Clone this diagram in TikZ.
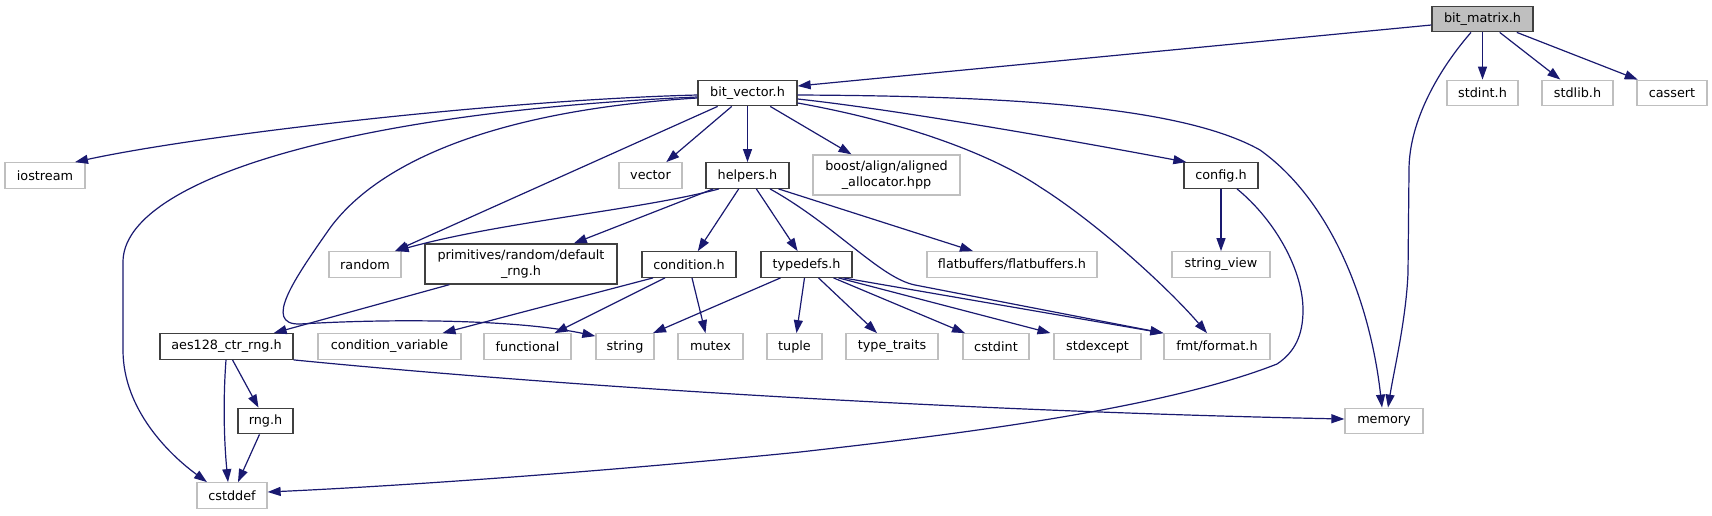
\documentclass[tikz,border=0pt]{standalone}
\usepackage{fontspec}
\setmainfont{DejaVu Sans}
\usetikzlibrary{arrows.meta,calc}
\definecolor{edgec}{HTML}{191970}
\definecolor{grayb}{HTML}{BFBFBF}
\definecolor{darkb}{HTML}{404040}
\begin{document}
\begin{tikzpicture}[x=1pt,y=-1pt,
  base/.style={draw, line width=1.3pt, inner sep=0pt, minimum height=25.5pt,
    font=\fontsize{12.8}{15.5}\selectfont, align=center},
  proj/.style={base, draw=darkb, fill=white},
  ext/.style={base, draw=grayb, fill=white},
  root/.style={base, draw=darkb, fill=grayb},
  twoline/.style={minimum height=40pt},
  dep/.style={draw=edgec, line width=1.2pt, -{Triangle[length=13pt,width=9pt]}}
]
\useasboundingbox (0,0) rectangle (1712,515);

% row 0
\node[root, minimum width=101pt] (bm) at (1482.5,19) {bit\_matrix.h};
% row 1
\node[proj, minimum width=99pt] (bv) at (747.5,93) {bit\_vector.h};
\node[ext, minimum width=71pt] (stdint) at (1482.5,93) {stdint.h};
\node[ext, minimum width=71pt] (stdlib) at (1577.5,93) {stdlib.h};
\node[ext, minimum width=70pt] (cassert) at (1672,93) {cassert};
% row 2
\node[ext, minimum width=80pt] (iostream) at (45,175.5) {iostream};
\node[ext, minimum width=63pt] (vector) at (650.5,175.5) {vector};
\node[proj, minimum width=83pt] (helpers) at (747.5,175.5) {helpers.h};
\node[ext, twoline, minimum width=147pt] (boost) at (886.5,175) {boost/align/aligned\\\_allocator.hpp};
\node[proj, minimum width=74pt] (config) at (1221,175.5) {config.h};
% row 3
\node[ext, minimum width=72pt] (random) at (365,264.5) {random};
\node[proj, twoline, minimum width=192pt] (prim) at (521,264) {primitives/random/default\\\_rng.h};
\node[proj, minimum width=94pt] (cond) at (689,264.5) {condition.h};
\node[proj, minimum width=91pt] (typedefs) at (806.5,264.5) {typedefs.h};
\node[ext, minimum width=170pt] (flat) at (1012,264.5) {flatbuffers/flatbuffers.h};
\node[ext, minimum width=98pt] (sview) at (1221,264.5) {string\_view};
% row 4
\node[proj, minimum width=133pt] (aes) at (226.5,346.5) {aes128\_ctr\_rng.h};
\node[ext, minimum width=143pt] (condvar) at (389.5,346.5) {condition\_variable};
\node[ext, minimum width=87pt] (functional) at (527.5,346.5) {functional};
\node[ext, minimum width=58pt] (string) at (625,346.5) {string};
\node[ext, minimum width=65pt] (mutex) at (710.5,346.5) {mutex};
\node[ext, minimum width=55pt] (tuple) at (794.5,346.5) {tuple};
\node[ext, minimum width=92pt] (ttraits) at (892,346.5) {type\_traits};
\node[ext, minimum width=66pt] (cstdint) at (996,346.5) {cstdint};
\node[ext, minimum width=87pt] (stdexcept) at (1097.5,346.5) {stdexcept};
\node[ext, minimum width=106pt] (fmt) at (1217,346.5) {fmt/format.h};
% row 5
\node[proj, minimum width=55pt] (rng) at (265.5,421) {rng.h};
\node[ext, minimum width=78pt] (memory) at (1384,421) {memory};
% row 6
\node[ext, minimum width=70pt] (cstddef) at (232,495.5) {cstddef};

% edges from bit_matrix.h
\draw[dep] ([yshift=-6]bm.west) -- ([yshift=7]bv.east);
\draw[dep] ([xshift=-11.5]bm.south) .. controls (1440,68) and (1409,120) .. (1409,170)
  -- (1408,273) .. controls (1406,320) and (1394,370) .. ([xshift=4]memory.north);
\draw[dep] (bm) -- (stdint);
\draw[dep] (bm) -- (stdlib);
\draw[dep] (bm) -- (cassert);

% edges from bit_vector.h
\draw[dep] ([yshift=-2]bv.west) .. controls (500,100) and (200,135) .. ([xshift=30]iostream.north);
\draw[dep] ([yshift=-4]bv.west) .. controls (350,112) and (123,180) .. (123,262)
  -- (123,350) .. controls (123,410) and (170,455) .. ([xshift=-25]cstddef.north);
\draw[dep] ([yshift=-5]bv.west) .. controls (500,110) and (380,160) .. (330,228)
  .. controls (295,278) and (262,325) .. (300,324)
  .. controls (400,318) and (520,320) .. ([yshift=-3]string.north west);
\draw[dep] (bv) -- (random);
\draw[dep] (bv) -- (vector);
\draw[dep] (bv) -- (helpers);
\draw[dep] (bv) -- (boost);
\draw[dep] ([yshift=-6]bv.east) .. controls (900,110) and (1080,142) .. ([xshift=3]config.north west);
\draw[dep] ([yshift=-10]bv.east) .. controls (920,125) and (1000,160) .. (1040,187)
  .. controls (1100,225) and (1170,290) .. ([xshift=-10]fmt.north);
\draw[dep] ([yshift=-2]bv.east) .. controls (1000,96) and (1180,105) .. (1260,150)
  .. controls (1330,200) and (1370,300) .. ([xshift=-2]memory.north);

% edges from config.h
\draw[dep] (config) -- (sview);
\draw[dep] ([xshift=16]config.south) .. controls (1275,220) and (1303,270) .. (1303,310)
  .. controls (1303,335) and (1295,352) .. (1277,364)
  .. controls (1160,410) and (950,435) .. (800,452)
  .. controls (600,472) and (400,486) .. ([yshift=3.5]cstddef.east);

% edges from helpers.h
\draw[dep] ([xshift=-28.5]helpers.south) .. controls (640,210) and (500,222) .. ([xshift=-6]random.north east);
\draw[dep] (helpers) -- (prim);
\draw[dep] (helpers) -- (cond);
\draw[dep] (helpers) -- (typedefs);
\draw[dep] ([xshift=22.5]helpers.south) .. controls (835,225) and (880,278) .. (915,285) -- (fmt.north west);
\draw[dep] ([xshift=31]helpers.south) -- ([xshift=-39]flat.north);

% edges from primitives/random/default_rng.h
\draw[dep] ([xshift=25]prim.south west) -- ([xshift=-20]aes.north east);

% edges from condition.h
\draw[dep] ([xshift=-36]cond.south) -- ([xshift=53]condvar.north);
\draw[dep] ([xshift=-24]cond.south) -- ([xshift=27]functional.north);
\draw[dep] ([xshift=3]cond.south) -- ([xshift=-5]mutex.north);

% edges from typedefs.h
\draw[dep] ([xshift=-26]typedefs.south) -- ([xshift=28]string.north);
\draw[dep] ([xshift=-2]typedefs.south) -- ([xshift=2]tuple.north);
\draw[dep] ([xshift=12]typedefs.south) -- ([xshift=-15]ttraits.north);
\draw[dep] ([xshift=27]typedefs.south) -- ([xshift=-31]cstdint.north);
\draw[dep] ([xshift=32]typedefs.south) -- ([xshift=-47]stdexcept.north);
\draw[dep] ([xshift=37]typedefs.south) -- (fmt.north west);

% edges from aes128_ctr_rng.h
\draw[dep] ([xshift=-0.5]aes.south) .. controls (223,400) and (224,440) .. ([xshift=-4]cstddef.north);
\draw[dep] ([xshift=6]aes.south) -- ([xshift=-7]rng.north);
\draw[dep] (aes.south east) .. controls (600,390) and (1000,412) .. ([yshift=2]memory.west);

% edges from rng.h
\draw[dep] ([xshift=-6]rng.south) -- ([xshift=6]cstddef.north);
\end{tikzpicture}
\end{document}
